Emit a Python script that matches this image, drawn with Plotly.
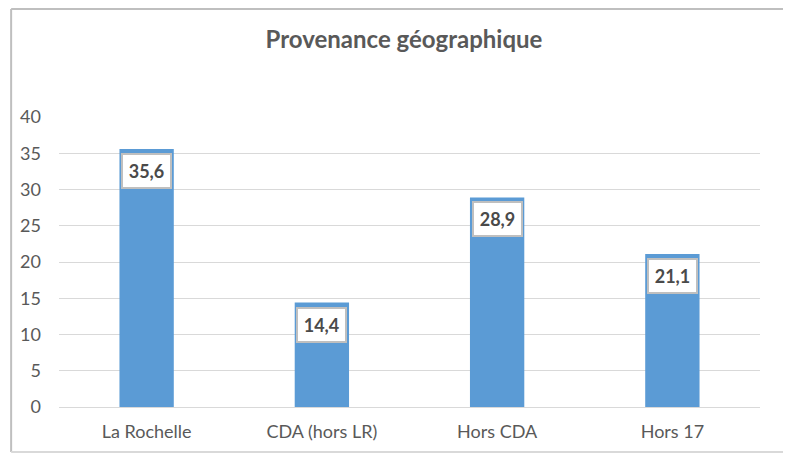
import plotly.graph_objects as go

categories = ["La Rochelle", "CDA (hors LR)", "Hors CDA", "Hors 17"]
values = [35.6, 14.4, 28.9, 21.1]
labels = ["35,6", "14,4", "28,9", "21,1"]
y_ticks = [0, 5, 10, 15, 20, 25, 30, 35, 40]

font_family = "Lato, 'Open Sans', sans-serif"

# page body has an 8px margin: work in target pixel coords minus 8
OFF = 8
W, H = 791, 455
L, R, T, B = 57 - OFF, W - (760 - OFF), 117 - OFF, H - (407 - OFF)

fig = go.Figure()
fig.add_trace(go.Bar(
    x=categories, y=values, width=0.31,
    marker=dict(color="#5B9BD5", line=dict(width=0)),
    hoverinfo="skip",
))

for c, v, t in zip(categories, values, labels):
    fig.add_annotation(
        x=c, y=v, xref="x", yref="y", text="<b>" + t + "</b>",
        showarrow=False, yanchor="top", yshift=-4,
        width=47, height=32, align="center", valign="middle",
        font=dict(family=font_family, size=18, color="#4a4a4a"),
        bgcolor="white", bordercolor="#BFBFBF", borderwidth=2, borderpad=0,
    )

pw, ph = W - L - R, H - T - B
def px(x):
    return (x - OFF - L) / pw
def py(y):
    return (H - B - (y - OFF)) / ph

fig.update_layout(
    width=W, height=H,
    margin=dict(l=L, r=R, t=T, b=B),
    paper_bgcolor="white", plot_bgcolor="white",
    showlegend=False,
    title=dict(text="<b>Provenance géographique</b>", x=(404 - OFF) / W, xanchor="center",
               y=1 - (40 - OFF) / H, yanchor="middle", yref="container",
               font=dict(family=font_family, size=24, color="#595959")),
    xaxis=dict(showgrid=False, showline=True, linecolor="#D9D9D9", linewidth=1,
               ticks="", ticklabelstandoff=8,
               tickfont=dict(family=font_family, size=18, color="#595959")),
    yaxis=dict(range=[0, 40], tickvals=y_ticks, showgrid=True, gridcolor="#D9D9D9",
               gridwidth=1, zeroline=False, showline=False, ticks="",
               ticklabelstandoff=17,
               tickfont=dict(family=font_family, size=18, color="#595959")),
    shapes=[
        dict(type="line", xref="paper", yref="paper", x0=px(9), x1=px(9), y0=py(9), y1=py(452),
             line=dict(color="#BFBFBF", width=2)),
        dict(type="line", xref="paper", yref="paper", x0=px(9), x1=px(800), y0=py(9), y1=py(9),
             line=dict(color="#BFBFBF", width=2)),
        dict(type="line", xref="paper", yref="paper", x0=px(9), x1=px(800), y0=py(452), y1=py(452),
             line=dict(color="#D9D9D9", width=2)),
    ],
)

fig.write_html("out.html")
